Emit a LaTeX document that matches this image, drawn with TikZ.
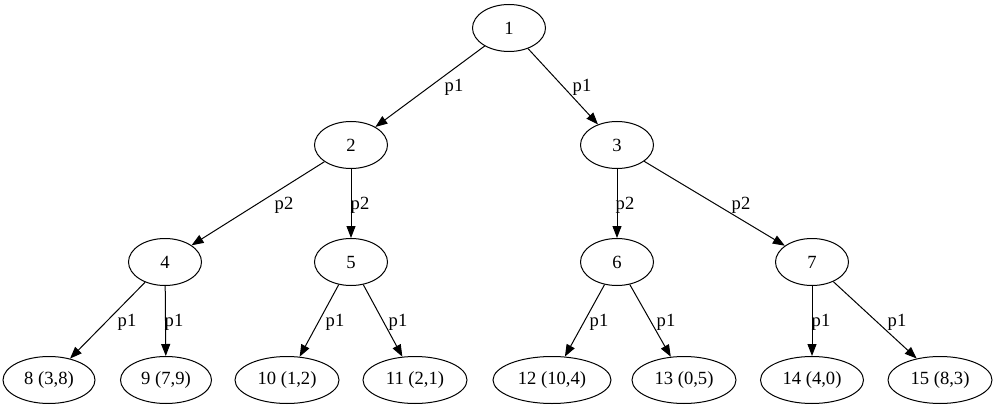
\documentclass[tikz,border=0pt]{standalone}
\usepackage{fontspec}
\setmainfont{Liberation Serif}
\usepackage{tikz}
\usetikzlibrary{shapes.geometric, arrows.meta, positioning}
\tikzset{vert/.style={ellipse, draw=black, line width=1pt, inner sep=0pt, minimum width=#1, minimum height=47pt},
vert/.default={73pt},
edge/.style={draw=black, line width=1pt, -{Triangle[length=12pt,width=9pt]}},
elabel/.style={inner sep=0pt}}

\begin{document}
\begin{tikzpicture}[x=1pt,y=-1pt,font=\fontsize{18.6}{20}\selectfont]
 \useasboundingbox (0,0) rectangle (995,409);

 \node[vert] (n1) at (509,28) {1};
 \node[vert] (n2) at (351,145) {2};
 \node[vert] (n3) at (617,145) {3};

 \node[vert] (n4) at (165,262) {4};
 \node[vert] (n5) at (351,262) {5};
 \node[vert] (n6) at (617,262) {6};
 \node[vert] (n7) at (812,262) {7};

 \node[vert=92pt] (n8) at (49,380) {8 (3,8)};
 \node[vert=91pt] (n9) at (166,380) {9 (7,9)};
 \node[vert=104pt] (n10) at (287,380) {10 (1,2)};
 \node[vert=104pt] (n11) at (415,380) {11 (2,1)};
 \node[vert=118pt] (n12) at (552,380) {12 (10,4)};
 \node[vert=104pt] (n13) at (684,380) {13 (0,5)};
 \node[vert=103pt] (n14) at (812,380) {14 (4,0)};
 \node[vert=104pt] (n15) at (940,380) {15 (8,3)};

 \draw[edge] (n1) -- (n2);
 \draw[edge] (n1) -- (n3);
 \node[elabel] (label12) at (454,87) {p1};
 \node[elabel] (label13) at (582,87) {p1};

 \draw[edge] (n2) -- (n4);
 \draw[edge] (n2) -- (n5);
 \draw[edge] (n3) -- (n6);
 \draw[edge] (n3) -- (n7);
 \node[elabel] (label24) at (284,205) {p2};
 \node[elabel] (label25) at (360,205) {p2};
 \node[elabel] (label36) at (625,205) {p2};
 \node[elabel] (label37) at (741,205) {p2};

 \draw[edge] (n4) -- (n8);
 \draw[edge] (n4) -- (n9);
 \draw[edge] (n5) -- (n10);
 \draw[edge] (n5) -- (n11);
 \draw[edge] (n6) -- (n12);
 \draw[edge] (n6) -- (n13);
 \draw[edge] (n7) -- (n14);
 \draw[edge] (n7) -- (n15);
 \node[elabel] (label48) at (127,322) {p1};
 \node[elabel] (label49) at (174,322) {p1};
 \node[elabel] (label510) at (335,322) {p1};
 \node[elabel] (label511) at (398,322) {p1};
 \node[elabel] (label612) at (599,322) {p1};
 \node[elabel] (label613) at (666,322) {p1};
 \node[elabel] (label714) at (821,322) {p1};
 \node[elabel] (label715) at (897,322) {p1};

\end{tikzpicture}
\end{document}
